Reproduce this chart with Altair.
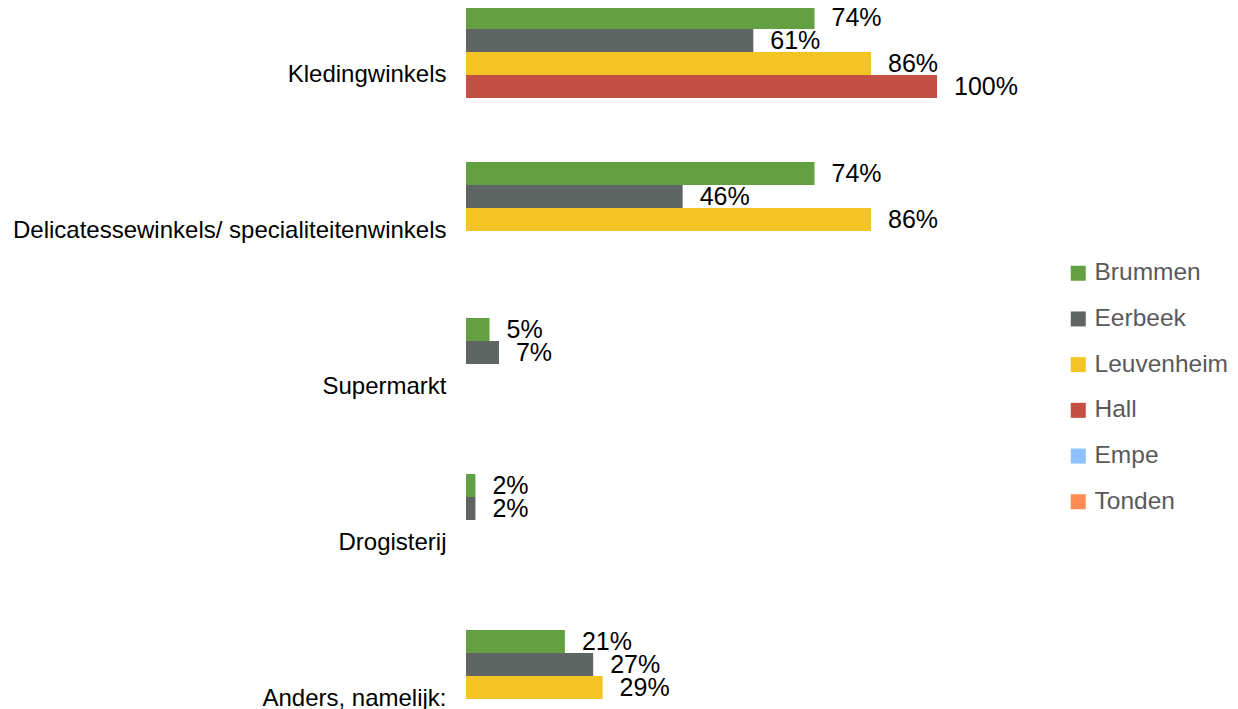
import altair as alt
import pandas as pd

categories = ["Kledingwinkels", "Delicatessewinkels/ specialiteitenwinkels",
              "Supermarkt", "Drogisterij", "Anders, namelijk:"]
series = ["Brummen", "Eerbeek", "Leuvenheim", "Hall", "Empe", "Tonden"]
colors = ["#63A042", "#5E6563", "#F4C424", "#C44F43", "#8FC0FF", "#FF8C55"]

brummen = [74, 74, 5, 2, 21]
eerbeek = [61, 46, 7, 2, 27]
leuvenheim = [86, 86, None, None, 29]
hall = [100, None, None, None, None]
empe = [None, None, None, None, None]
tonden = [None, None, None, None, None]

values = {"Brummen": brummen, "Eerbeek": eerbeek, "Leuvenheim": leuvenheim,
          "Hall": hall, "Empe": empe, "Tonden": tonden}

rows = []
for s in series:
    for c, v in zip(categories, values[s]):
        if v is not None:
            rows.append({"cat": c, "series": s, "value": v, "label": f"{v}%"})
df = pd.DataFrame(rows)

FONT = "Liberation Sans"

y = alt.Y("cat:N", sort=categories,
          scale=alt.Scale(domain=categories, range=[-2, 760], paddingInner=18 / 156,
                          paddingOuter=0, round=False),
          axis=alt.Axis(title=None, labelFontSize=24, labelColor="#000000", labelPadding=20,
                        ticks=False, domain=False, labelLimit=0, labelFont=FONT))
yoff = alt.YOffset("series:N", sort=series,
                   scale=alt.Scale(domain=series, paddingInner=0, paddingOuter=0, round=False))
x = alt.X("value:Q", scale=alt.Scale(domain=[0, 100]), axis=None)

bars = alt.Chart(df).mark_bar().encode(
    x=x, y=y, yOffset=yoff,
    color=alt.Color("series:N", sort=series,
                    scale=alt.Scale(domain=series, range=colors),
                    legend=alt.Legend(title=None, orient="none", legendX=600, legendY=253,
                                      symbolType="square", symbolSize=225, symbolStrokeWidth=0,
                                      labelFontSize=24.5, labelColor="#595959", labelFont=FONT,
                                      labelOffset=4, rowPadding=20.7, padding=0, offset=0)),
)

texts = alt.Chart(df).mark_text(align="left", baseline="middle", dx=17, fontSize=25,
                                font=FONT, color="#000000").encode(
    x=x, y=y, yOffset=yoff, text="label:N"
)

chart = (bars + texts).properties(
    width=471, height=760,
    autosize=alt.AutoSizeParams(type="none"),
    padding={"left": 458, "top": 0, "right": 293, "bottom": 0},
).configure_view(stroke=None)

chart.save("out.html", embed_options={"renderer": "svg", "actions": False})
